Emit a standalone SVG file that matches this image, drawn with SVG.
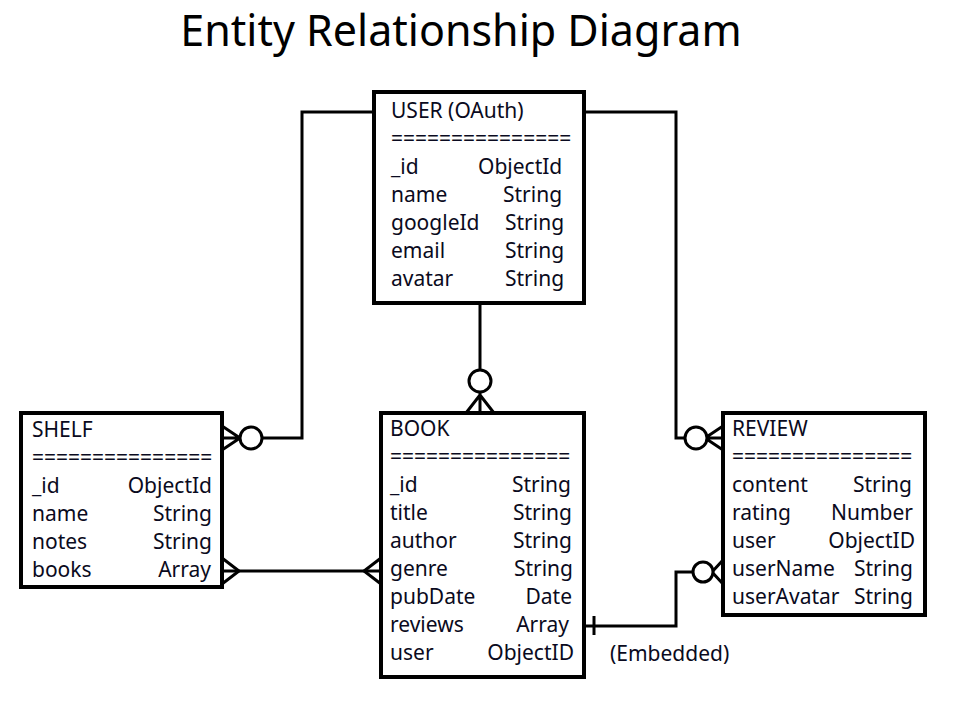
<svg xmlns="http://www.w3.org/2000/svg" width="960" height="720" viewBox="0 0 960 720">
<style>
.box{fill:#fff;stroke:#000;stroke-width:4}
text{font-family:"Noto Sans","Open Sans",sans-serif;font-size:21px;fill:#0a0a20}
.r{text-anchor:end}
.title{font-size:43px;fill:#000;text-anchor:middle}
.c{fill:none;stroke:#000;stroke-width:3}
.o{fill:#fff;stroke:#000;stroke-width:3}
</style>
<rect width="960" height="720" fill="#fff"/>
<text class="title" x="461" y="46">Entity Relationship Diagram</text>
<g id="connectors">
<path class="c" d="M374,112 H302 V438 H262"/>
<path class="c" d="M222,426 L240,438 L222,450 M222,438 H240"/>
<circle class="o" cx="251" cy="438" r="11"/>
<path class="c" d="M584,112 H676 V438 H685"/>
<path class="c" d="M723,426 L705,438 L723,450 M723,438 H705"/>
<circle class="o" cx="696" cy="438" r="11"/>
<path class="c" d="M480,303 V370"/>
<path class="c" d="M466,413 L480,395 L494,413 M480,413 V392"/>
<circle class="o" cx="480" cy="381" r="11"/>
<path class="c" d="M222,571 H381"/>
<path class="c" d="M222,558 L239,571 L222,584"/>
<path class="c" d="M381,558 L364,571 L381,584"/>
<path class="c" d="M584,626 H676 V572 H692"/>
<path class="c" d="M594,616 V635"/>
<path class="c" d="M723,560 L712,572 L723,584"/>
<circle class="o" cx="703" cy="572" r="10"/>
<text x="610" y="661">(Embedded)</text>
</g>
<g id="user">
<rect class="box" x="374" y="92" width="210" height="211"/>
<text x="391" y="118">USER (OAuth)</text>
<text x="391" y="146">===============</text>
<text x="391" y="174">_id</text><text x="478" y="174">ObjectId</text>
<text x="391" y="202">name</text><text x="503" y="202">String</text>
<text x="391" y="230">googleId</text><text x="505" y="230">String</text>
<text x="391" y="258">email</text><text x="505" y="258">String</text>
<text x="391" y="286">avatar</text><text x="505" y="286">String</text>
</g>
<g id="shelf">
<rect class="box" x="21" y="413" width="201" height="174"/>
<text x="32" y="437">SHELF</text>
<text x="32" y="465">===============</text>
<text x="32" y="493">_id</text><text class="r" x="212" y="493">ObjectId</text>
<text x="32" y="521">name</text><text class="r" x="212" y="521">String</text>
<text x="32" y="549">notes</text><text class="r" x="212" y="549">String</text>
<text x="32" y="577">books</text><text class="r" x="211" y="577">Array</text>
</g>
<g id="book">
<rect class="box" x="381" y="413" width="203" height="264"/>
<text x="390" y="436">BOOK</text>
<text x="390" y="464">===============</text>
<text x="390" y="492">_id</text><text class="r" x="571" y="492">String</text>
<text x="390" y="520">title</text><text class="r" x="572" y="520">String</text>
<text x="390" y="548">author</text><text class="r" x="572" y="548">String</text>
<text x="390" y="576">genre</text><text class="r" x="573" y="576">String</text>
<text x="390" y="604">pubDate</text><text class="r" x="572" y="604">Date</text>
<text x="390" y="632">reviews</text><text class="r" x="569" y="632">Array</text>
<text x="390" y="660">user</text><text class="r" x="574" y="660">ObjectID</text>
</g>
<g id="review">
<rect class="box" x="723" y="413" width="202" height="202"/>
<text x="732" y="436">REVIEW</text>
<text x="732" y="464">===============</text>
<text x="732" y="492">content</text><text class="r" x="912" y="492">String</text>
<text x="732" y="520">rating</text><text class="r" x="913" y="520">Number</text>
<text x="732" y="548">user</text><text class="r" x="915" y="548">ObjectID</text>
<text x="732" y="576">userName</text><text class="r" x="913" y="576">String</text>
<text x="732" y="604">userAvatar</text><text class="r" x="913" y="604">String</text>
</g>
</svg>
